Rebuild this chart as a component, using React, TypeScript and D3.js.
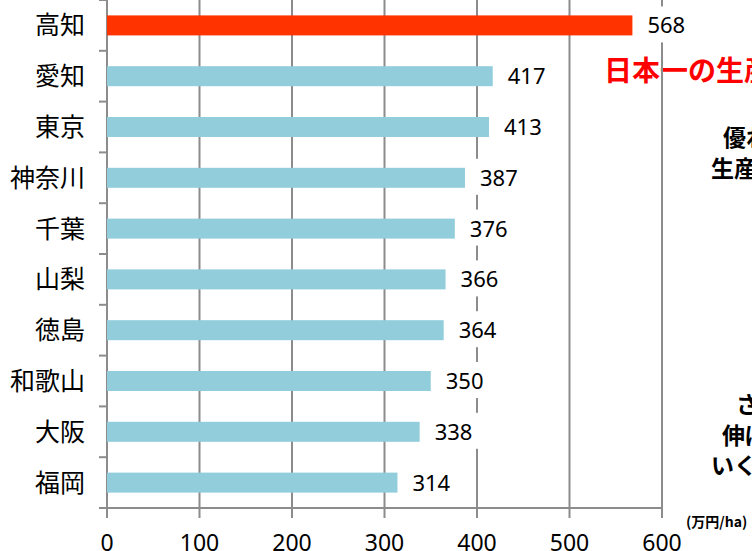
import React, { useRef, useEffect } from "react";
import { select, scaleLinear, scaleBand } from "d3";

const prefectures = ["高知", "愛知", "東京", "神奈川", "千葉", "山梨", "徳島", "和歌山", "大阪", "福岡"];
const productivity = [568, 417, 413, 387, 376, 366, 364, 350, 338, 314];
const xTicks = [0, 100, 200, 300, 400, 500, 600];
const unitLabel = "(万円/ha)";

const App: React.FC = () => {
  const svgRef = useRef(null);

  useEffect(() => {
    const svg = select(svgRef.current).attr("width", 752).attr("height", 551);
    svg.selectAll("*").remove();

    const xScale = scaleLinear().domain([0, 600]).range([107, 662]);
    const yScale = scaleBand().domain(prefectures).range([0, 508]).paddingInner(0).paddingOuter(0);

    const jp = "'Noto Sans CJK JP', 'Noto Sans', sans-serif";
    const num = "'Noto Sans', 'Open Sans', sans-serif";

    //side notes (cut off at the right edge)
    const notes = svg.append("g").attr("font-family", jp).attr("font-weight", "bold");
    notes.append("text").attr("x", 604).attr("y", 81).attr("font-size", 28).attr("fill", "#ff0000").text("日本一の生産");
    notes.append("text").attr("x", 723).attr("y", 146).attr("font-size", 23).text("優れ");
    notes.append("text").attr("x", 711).attr("y", 177).attr("font-size", 23).text("生産性");
    notes.append("text").attr("x", 736).attr("y", 413).attr("font-size", 23).text("さら");
    notes.append("text").attr("x", 722).attr("y", 444).attr("font-size", 23).text("伸ば");
    notes.append("text").attr("x", 711).attr("y", 474).attr("font-size", 23).text("いくこ");
    notes.append("text").attr("x", 686).attr("y", 527).attr("font-size", 14).text(unitLabel);

    //grid + x ticks
    const grid = svg.append("g").attr("stroke", "#8c8c8c").attr("stroke-width", 2);
    xTicks.forEach((t) => {
      grid.append("line")
        .attr("x1", xScale(t)).attr("x2", xScale(t))
        .attr("y1", 0).attr("y2", 518);
    });
    //x axis line
    grid.append("line").attr("x1", 99).attr("x2", 662).attr("y1", 508).attr("y2", 508);
    //category ticks
    prefectures.forEach((p) => {
      const y = yScale(p)!;
      grid.append("line").attr("x1", 99).attr("x2", 107).attr("y1", y).attr("y2", y);
    });

    //bars
    svg.append("g")
      .selectAll("rect")
      .data(prefectures)
      .join("rect")
      .attr("x", xScale(0))
      .attr("y", (d) => yScale(d)! + yScale.bandwidth() / 2 - 10)
      .attr("width", (d, i) => xScale(productivity[i]) - xScale(0))
      .attr("height", 20)
      .attr("fill", (d, i) => (i === 0 ? "#ff3300" : "#92cddc"));

    //value labels with white boxes
    const labels = svg.append("g").attr("font-family", num).attr("font-size", 22);
    prefectures.forEach((p, i) => {
      const x = xScale(productivity[i]) + 15;
      const cy = yScale(p)! + yScale.bandwidth() / 2;
      labels.append("rect")
        .attr("x", x - 8).attr("y", cy - 19)
        .attr("width", 56).attr("height", 36)
        .attr("fill", "#fff");
      labels.append("text")
        .attr("x", x).attr("y", cy + 8)
        .attr("fill", "#000")
        .text(productivity[i]);
    });

    //category labels
    svg.append("g")
      .selectAll("text")
      .data(prefectures)
      .join("text")
      .attr("x", 85)
      .attr("y", (d) => yScale(d)! + yScale.bandwidth() / 2 + 9)
      .attr("text-anchor", "end")
      .attr("font-family", jp)
      .attr("font-size", 25)
      .attr("fill", "#000")
      .text((d) => d);

    //x tick labels
    svg.append("g")
      .selectAll("text")
      .data(xTicks)
      .join("text")
      .attr("x", (d) => xScale(d))
      .attr("y", 551)
      .attr("text-anchor", "middle")
      .attr("font-family", num)
      .attr("font-size", 23)
      .attr("fill", "#000")
      .text((d) => d);
  }, []);

  return <svg ref={svgRef} style={{ position: "absolute", left: 0, top: 0, background: "#fff" }}></svg>;
};

export default App;
